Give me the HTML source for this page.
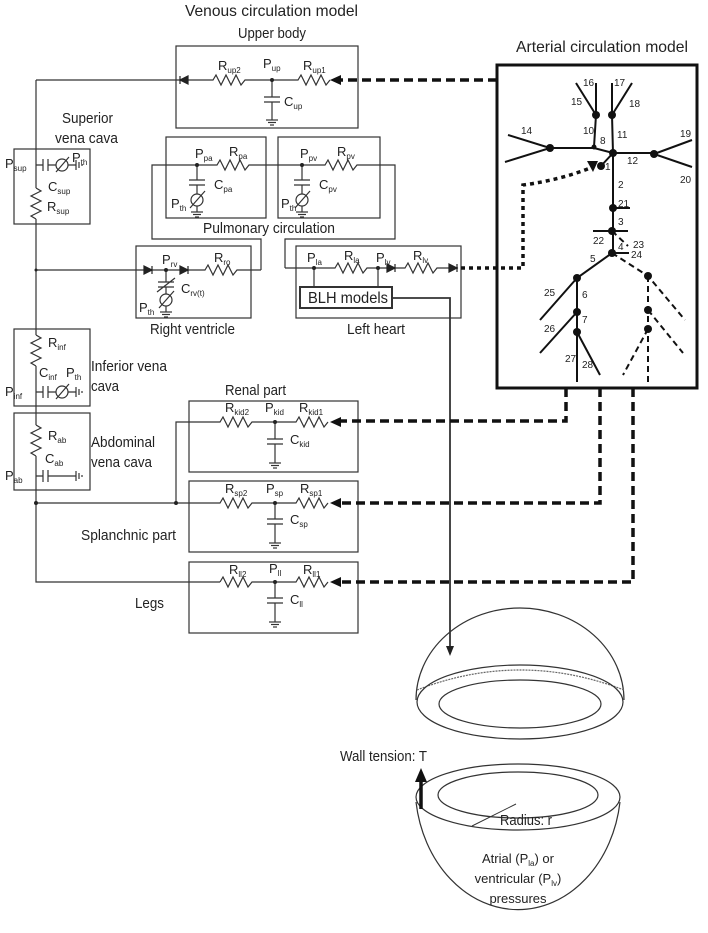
<!DOCTYPE html>
<html><head><meta charset="utf-8"><style>
body{margin:0;background:#fff}
svg{display:block}
text{font-family:"Liberation Sans Narrow","Liberation Sans",sans-serif;fill:#222}
.s{font-size:8px}
</style></head><body>
<svg width="708" height="933" viewBox="0 0 708 933" xmlns="http://www.w3.org/2000/svg">
<defs>
<g id="gnd"><line x1="-6" y1="0" x2="6" y2="0"/><line x1="-4" y1="2.5" x2="4" y2="2.5"/><line x1="-2" y1="5" x2="2" y2="5"/></g>
<g id="dR"><path d="M-4 -4 L4 0 L-4 4Z" fill="#222"/><line x1="4" y1="-4" x2="4" y2="4"/></g>
</defs>
<g stroke="#333" stroke-width="1.2" fill="none">
<rect x="176" y="46" width="182" height="82"/>
<rect x="14" y="149" width="76" height="75"/>
<rect x="166" y="137" width="100" height="81"/>
<rect x="278" y="137" width="102" height="81"/>
<rect x="136" y="246" width="115" height="72"/>
<rect x="296" y="246" width="165" height="72"/>
<rect x="14" y="329" width="76" height="77"/>
<rect x="14" y="413" width="76" height="77"/>
<rect x="189" y="401" width="169" height="71"/>
<rect x="189" y="481" width="169" height="71"/>
<rect x="189" y="562" width="169" height="71"/>
<path d="M36 80 V188 M36 219 V335 M36 366 V425 M36 456 V582 H220"/>
<path d="M36 80 H213 l3 -5 l5 10 l5 -10 l5 10 l5 -10 l5 10 l4 -5 H298 l3 -5 l5 10 l5 -10 l5 10 l5 -10 l5 10 l4 -5"/>
<path d="M272 80 V97 M264 97 H280 M264 102 H280 M272 102 V120"/>
<use href="#gnd" x="272" y="120"/>
<path d="M36 165 H43 M43 159 V171 M48 159 V171 M48 165 H56 M68 165 H76 M76 160 V170 M79 162 V168 M82 164 V166"/>
<circle cx="62" cy="165" r="6"/><path d="M56 172 L69 157"/>
<path d="M36 188 l5 3 l-10 5 l10 5 l-10 5 l10 5 l-10 5 l5 3"/>
<path d="M261 270 V239 H152 V165 H217 l3 -5 l5 10 l5 -10 l5 10 l5 -10 l5 10 l4 -5 H325 l3 -5 l5 10 l5 -10 l5 10 l5 -10 l5 10 l4 -5 H395 V239 H285 V268"/>
<path d="M197 165 V180 M189 180 H205 M189 185 H205 M197 185 V194 M197 206 V212"/>
<circle cx="197" cy="200" r="6"/><path d="M190 208 L205 191"/>
<use href="#gnd" x="197" y="212"/>
<path d="M302 165 V180 M294 180 H310 M294 185 H310 M302 185 V194 M302 206 V212"/>
<circle cx="302" cy="200" r="6"/><path d="M295 208 L310 191"/>
<use href="#gnd" x="302" y="212"/>
<path d="M36 270 H205 l3 -5 l5 10 l5 -10 l5 10 l5 -10 l5 10 l4 -5 H261"/>
<path d="M166 270 V282 M158 282 H174 M158 287 H174 M166 287 V294 M166 306 V312 M157 292 L175 278"/>
<circle cx="166" cy="300" r="6"/><path d="M159 308 L174 291"/>
<use href="#gnd" x="166" y="312"/>
<path d="M285 268 H335 l3 -5 l5 10 l5 -10 l5 10 l5 -10 l5 10 l4 -5 H405 l3 -5 l5 10 l5 -10 l5 10 l5 -10 l5 10 l4 -5 H458"/>
<path d="M314 268 V287 M378 268 V287"/>
<rect x="300" y="287" width="92" height="21" stroke-width="2"/>
<path d="M392 298 H450 V648" stroke-width="1.8"/>
<path d="M36 335 l5 3 l-10 5 l10 5 l-10 5 l10 5 l-10 5 l5 3"/>
<path d="M36 392 H43 M43 386 V398 M48 386 V398 M48 392 H56 M68 392 H76 M76 387 V397 M79 389 V395 M82 391 V393"/>
<circle cx="62" cy="392" r="6"/><path d="M56 399 L69 384"/>
<path d="M36 425 l5 3 l-10 5 l10 5 l-10 5 l10 5 l-10 5 l5 3"/>
<path d="M36 476 H43 M43 470 V482 M48 470 V482 M48 476 H76 M76 471 V481 M79 473 V479 M82 475 V477"/>
<path d="M176 503 V422 H220 l3 -5 l5 10 l5 -10 l5 10 l5 -10 l5 10 l4 -5 H296 l3 -5 l5 10 l5 -10 l5 10 l5 -10 l5 10 l4 -5"/>
<path d="M275 422 V439 M267 439 H283 M267 444 H283 M275 444 V463"/>
<use href="#gnd" x="275" y="463"/>
<path d="M36 503 H220 l3 -5 l5 10 l5 -10 l5 10 l5 -10 l5 10 l4 -5 H296 l3 -5 l5 10 l5 -10 l5 10 l5 -10 l5 10 l4 -5"/>
<path d="M275 503 V519 M267 519 H283 M267 524 H283 M275 524 V543"/>
<use href="#gnd" x="275" y="543"/>
<path d="M220 582 l3 -5 l5 10 l5 -10 l5 10 l5 -10 l5 10 l4 -5 H296 l3 -5 l5 10 l5 -10 l5 10 l5 -10 l5 10 l4 -5"/>
<path d="M275 582 V598 M267 598 H283 M267 603 H283 M275 603 V622"/>
<use href="#gnd" x="275" y="622"/>
</g>
<g fill="#222">
<circle cx="272" cy="80" r="2"/><circle cx="197" cy="165" r="2"/><circle cx="302" cy="165" r="2"/>
<circle cx="166" cy="270" r="2"/><circle cx="314" cy="268" r="2"/><circle cx="378" cy="268" r="2"/>
<circle cx="275" cy="422" r="2"/><circle cx="275" cy="503" r="2"/><circle cx="275" cy="582" r="2"/>
<circle cx="36" cy="503" r="2"/><circle cx="176" cy="503" r="2"/><circle cx="36" cy="270" r="1.5"/>
<path d="M446 646 L450 656 L454 646Z"/>
</g>
<g stroke="#222" stroke-width="1.2" fill="none">
<use href="#dR" x="184" y="80" transform="rotate(180 184 80)"/>
<use href="#dR" x="148" y="270"/><use href="#dR" x="184" y="270"/>
<use href="#dR" x="391" y="268"/><use href="#dR" x="453" y="268"/>
</g>
<rect x="497" y="65" width="200" height="323" fill="none" stroke="#111" stroke-width="3"/>
<g stroke="#111" stroke-width="3.5" fill="none" stroke-dasharray="9,5">
<path d="M497 80 H340"/>
<path d="M566 388 V421 H340"/>
<path d="M600 388 V503 H340"/>
<path d="M633 388 V582 H340"/>
</g>
<path d="M461 268 H523 V185 Q560 180 590 168" stroke="#111" stroke-width="3.5" fill="none" stroke-dasharray="4,4"/>
<g fill="#111">
<path d="M330 80 L341 75 L341 85Z"/><path d="M330 422 L341 417 L341 427Z"/>
<path d="M330 503 L341 498 L341 508Z"/><path d="M330 582 L341 577 L341 587Z"/>
<path d="M598 161 L587 161 L593 172Z"/>
</g>
<g stroke="#111" stroke-width="2" fill="none">
<path d="M596 83 V115 M576 83 L596 115 M612 83 V115 M632 83 L612 115 M596 115 L594 147 M612 115 L613 153"/>
<path d="M508 135 L550 148 L505 162 M550 148 H594 L613 153 H654 M692 140 L654 154 L692 167 M613 153 L601 166"/>
<path d="M613 153 V253 M613 208 H630 M593 231 H628 M612 253 H629 M612 253 L577 278 V382 M540 320 L577 278 M540 353 L577 312 M600 375 L577 332"/>
</g>
<g stroke="#111" stroke-width="2" fill="none" stroke-dasharray="6,4">
<path d="M612 231 L628 246 M612 253 L648 276 L685 320 M648 276 V382 M648 310 L683 353 M648 329 L623 375"/>
</g>
<g fill="#111">
<circle cx="596" cy="115" r="4"/><circle cx="612" cy="115" r="4"/><circle cx="594" cy="147" r="2.5"/><circle cx="613" cy="153" r="4"/>
<circle cx="550" cy="148" r="4"/><circle cx="654" cy="154" r="4"/><circle cx="601" cy="166" r="4"/>
<circle cx="613" cy="208" r="4"/><circle cx="612" cy="231" r="4"/><circle cx="612" cy="253" r="4"/>
<circle cx="577" cy="278" r="4"/><circle cx="577" cy="312" r="4"/><circle cx="577" cy="332" r="4"/>
<circle cx="648" cy="276" r="4"/><circle cx="648" cy="310" r="4"/><circle cx="648" cy="329" r="4"/>
</g>
<g font-size="10">
<text x="583" y="86">16</text><text x="614" y="86">17</text><text x="571" y="105">15</text><text x="629" y="107">18</text>
<text x="583" y="134">10</text><text x="617" y="138">11</text><text x="600" y="144">8</text><text x="521" y="134">14</text>
<text x="627" y="164">12</text><text x="680" y="137">19</text><text x="680" y="183">20</text><text x="605" y="170">1</text>
<text x="618" y="188">2</text><text x="618" y="207">21</text><text x="618" y="225">3</text><text x="593" y="244">22</text>
<text x="618" y="250">4</text><text x="633" y="248">23</text><text x="631" y="258">24</text><text x="590" y="262">5</text>
<text x="544" y="296">25</text><text x="582" y="298">6</text><text x="582" y="323">7</text><text x="544" y="332">26</text>
<text x="565" y="362">27</text><text x="582" y="368">28</text>
</g>
<g stroke="#333" stroke-width="1.2" fill="none">
<path d="M416 700 A104 92 0 0 1 624 700"/>
<path d="M417 690 Q520 650 624 690" stroke-dasharray="2,1" stroke="#666"/>
<ellipse cx="520" cy="702" rx="103" ry="37"/>
<ellipse cx="520" cy="704" rx="81" ry="24"/>
<path d="M416 802 A103 125 0 0 0 620 802"/>
<ellipse cx="518" cy="797" rx="102" ry="33"/>
<ellipse cx="518" cy="795" rx="80" ry="23"/>
<path d="M472 826 L516 804" stroke-width="1"/>
</g>
<path d="M421 809 V780" stroke="#111" stroke-width="3.5"/>
<path d="M415 782 L421 768 L427 782Z" fill="#111"/>
<g font-size="15" lengthAdjust="spacingAndGlyphs">
<text x="185" y="16" font-size="16" textLength="173" lengthAdjust="spacingAndGlyphs">Venous circulation model</text>
<text x="238" y="38" textLength="68" lengthAdjust="spacingAndGlyphs">Upper body</text>
<text x="516" y="52" font-size="16" textLength="172" lengthAdjust="spacingAndGlyphs">Arterial circulation model</text>
<text x="62" y="123" textLength="51" lengthAdjust="spacingAndGlyphs">Superior</text>
<text x="55" y="143" textLength="63" lengthAdjust="spacingAndGlyphs">vena cava</text>
<text x="203" y="233" textLength="132" lengthAdjust="spacingAndGlyphs">Pulmonary circulation</text>
<text x="150" y="334" textLength="85" lengthAdjust="spacingAndGlyphs">Right ventricle</text>
<text x="347" y="334" textLength="58" lengthAdjust="spacingAndGlyphs">Left heart</text>
<text x="91" y="371" textLength="76" lengthAdjust="spacingAndGlyphs">Inferior vena</text>
<text x="91" y="391" textLength="28" lengthAdjust="spacingAndGlyphs">cava</text>
<text x="91" y="447" textLength="64" lengthAdjust="spacingAndGlyphs">Abdominal</text>
<text x="91" y="467" textLength="61" lengthAdjust="spacingAndGlyphs">vena cava</text>
<text x="225" y="395" textLength="61" lengthAdjust="spacingAndGlyphs">Renal part</text>
<text x="81" y="540" textLength="95" lengthAdjust="spacingAndGlyphs">Splanchnic part</text>
<text x="135" y="608" textLength="29" lengthAdjust="spacingAndGlyphs">Legs</text>
<text x="308" y="303" font-size="16" textLength="80" lengthAdjust="spacingAndGlyphs">BLH models</text>
<text x="340" y="761" textLength="87" lengthAdjust="spacingAndGlyphs">Wall tension: T</text>
<text x="500" y="825" textLength="52" lengthAdjust="spacingAndGlyphs">Radius: r</text>
</g>
<g font-size="13">
<text x="518" y="863" text-anchor="middle">Atrial (P<tspan class="s" dy="3">la</tspan><tspan dy="-3">) or</tspan></text>
<text x="518" y="883" text-anchor="middle">ventricular (P<tspan class="s" dy="3">lv</tspan><tspan dy="-3">)</tspan></text>
<text x="518" y="903" text-anchor="middle">pressures</text>
</g>
<g font-size="13">
<text x="218" y="70">R<tspan class="s" dy="3">up2</tspan></text>
<text x="263" y="68">P<tspan class="s" dy="3">up</tspan></text>
<text x="303" y="70">R<tspan class="s" dy="3">up1</tspan></text>
<text x="284" y="106">C<tspan class="s" dy="3">up</tspan></text>
<text x="5" y="168">P<tspan class="s" dy="3">sup</tspan></text>
<text x="72" y="162">P<tspan class="s" dy="3">th</tspan></text>
<text x="48" y="191">C<tspan class="s" dy="3">sup</tspan></text>
<text x="47" y="211">R<tspan class="s" dy="3">sup</tspan></text>
<text x="195" y="158">P<tspan class="s" dy="3">pa</tspan></text>
<text x="229" y="156">R<tspan class="s" dy="3">pa</tspan></text>
<text x="214" y="189">C<tspan class="s" dy="3">pa</tspan></text>
<text x="171" y="208">P<tspan class="s" dy="3">th</tspan></text>
<text x="300" y="158">P<tspan class="s" dy="3">pv</tspan></text>
<text x="337" y="156">R<tspan class="s" dy="3">pv</tspan></text>
<text x="319" y="189">C<tspan class="s" dy="3">pv</tspan></text>
<text x="281" y="208">P<tspan class="s" dy="3">th</tspan></text>
<text x="162" y="264">P<tspan class="s" dy="3">rv</tspan></text>
<text x="214" y="262">R<tspan class="s" dy="3">ro</tspan></text>
<text x="181" y="293">C<tspan class="s" dy="3">rv(t)</tspan></text>
<text x="139" y="312">P<tspan class="s" dy="3">th</tspan></text>
<text x="307" y="262">P<tspan class="s" dy="3">la</tspan></text>
<text x="344" y="260">R<tspan class="s" dy="3">la</tspan></text>
<text x="376" y="262">P<tspan class="s" dy="3">lv</tspan></text>
<text x="413" y="260">R<tspan class="s" dy="3">lv</tspan></text>
<text x="48" y="347">R<tspan class="s" dy="3">inf</tspan></text>
<text x="39" y="377">C<tspan class="s" dy="3">inf</tspan></text>
<text x="66" y="377">P<tspan class="s" dy="3">th</tspan></text>
<text x="5" y="396">P<tspan class="s" dy="3">inf</tspan></text>
<text x="48" y="440">R<tspan class="s" dy="3">ab</tspan></text>
<text x="45" y="463">C<tspan class="s" dy="3">ab</tspan></text>
<text x="5" y="480">P<tspan class="s" dy="3">ab</tspan></text>
<text x="225" y="412">R<tspan class="s" dy="3">kid2</tspan></text>
<text x="265" y="412">P<tspan class="s" dy="3">kid</tspan></text>
<text x="299" y="412">R<tspan class="s" dy="3">kid1</tspan></text>
<text x="290" y="444">C<tspan class="s" dy="3">kid</tspan></text>
<text x="225" y="493">R<tspan class="s" dy="3">sp2</tspan></text>
<text x="266" y="493">P<tspan class="s" dy="3">sp</tspan></text>
<text x="300" y="493">R<tspan class="s" dy="3">sp1</tspan></text>
<text x="290" y="524">C<tspan class="s" dy="3">sp</tspan></text>
<text x="229" y="574">R<tspan class="s" dy="3">ll2</tspan></text>
<text x="269" y="573">P<tspan class="s" dy="3">ll</tspan></text>
<text x="303" y="574">R<tspan class="s" dy="3">ll1</tspan></text>
<text x="290" y="604">C<tspan class="s" dy="3">ll</tspan></text>
</g>
</svg>
</body></html>
